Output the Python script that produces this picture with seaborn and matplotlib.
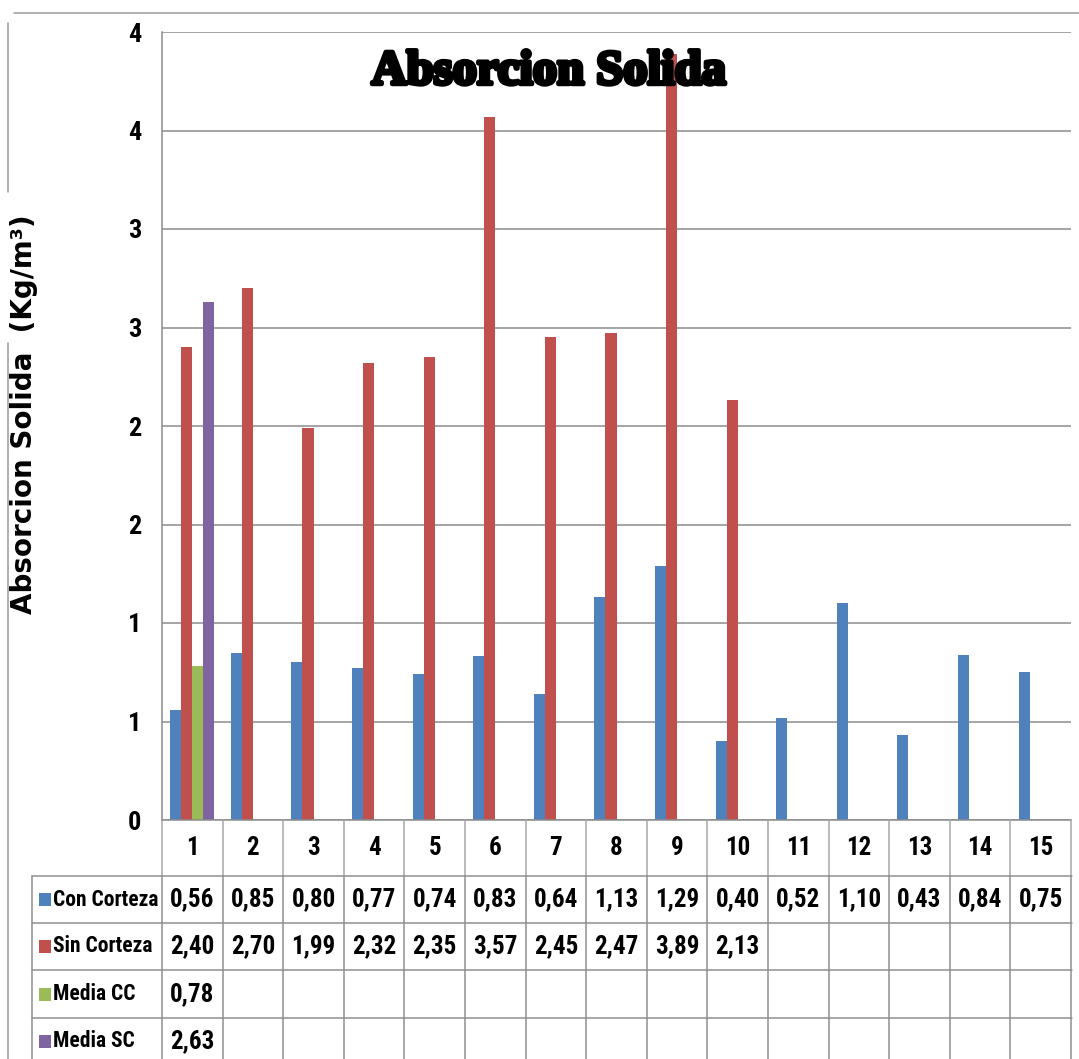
import numpy as np
import pandas as pd
import matplotlib
matplotlib.use("Agg")
import matplotlib.pyplot as plt
import seaborn as sns
from matplotlib.lines import Line2D
from matplotlib.patches import Rectangle
from matplotlib.transforms import blended_transform_factory
from matplotlib.ticker import MultipleLocator, FuncFormatter
import matplotlib.patheffects as pe

# ---- data -------------------------------------------------------------
categories = [str(i) for i in range(1, 16)]
con_corteza = [0.56, 0.85, 0.80, 0.77, 0.74, 0.83, 0.64, 1.13, 1.29, 0.40,
               0.52, 1.10, 0.43, 0.84, 0.75]
sin_corteza = [2.40, 2.70, 1.99, 2.32, 2.35, 3.57, 2.45, 2.47, 3.89, 2.13]
media_cc = [0.78]
media_sc = [2.63]

series_names = ["Con Corteza", "Sin Corteza", "Media CC", "Media SC"]
series_values = [con_corteza, sin_corteza, media_cc, media_sc]
series_colors = ["#4F81BD", "#C0504D", "#9BBB59", "#8064A2"]

rows = []
for name, vals in zip(series_names, series_values):
    for cat, v in zip(categories, vals):
        rows.append({"Muestra": cat, "Serie": name, "valor": v})
df = pd.DataFrame(rows)

# ---- figure -----------------------------------------------------------
W, H = 1079, 1059
sns.set_theme(style="white")
NARROW = ["Roboto Condensed", "DejaVu Sans"]
plt.rcParams["font.family"] = NARROW
plt.rcParams["font.stretch"] = "condensed"
plt.rcParams["text.color"] = "black"
plt.rcParams["ytick.color"] = "black"

fig = plt.figure(figsize=(W / 100, H / 100), dpi=100)
fig.patch.set_facecolor("white")

def fx(px):
    return px / W

def fy(py):
    return 1 - py / H

ax = fig.add_axes([fx(162), fy(820), fx(1071) - fx(162), fy(32) - fy(820)])

sns.barplot(data=df, x="Muestra", y="valor", hue="Serie", order=categories,
            hue_order=series_names, palette=series_colors, width=0.73,
            saturation=1, errorbar=None, legend=False, linewidth=0,
            edgecolor="none", ax=ax)

grid_col = "#8c8c8c"
ax.set_ylim(0, 4)
ax.set_xlim(-0.5, len(categories) - 0.5)
ax.yaxis.set_major_locator(MultipleLocator(0.5))
ax.yaxis.set_major_formatter(FuncFormatter(lambda v, p: f"{int(np.floor(v + 0.5))}"))
ax.grid(axis="y", color=grid_col, linewidth=1.1)
ax.set_axisbelow(True)
ax.set_xlabel("")
ax.set_ylabel("")
ax.set_xticks([])
ax.tick_params(axis="y", length=0, pad=15)
for lab in ax.get_yticklabels():
    lab.set_fontsize(19)
    lab.set_fontweight("bold")
    lab.set_color("black")
for s in ["top", "right"]:
    ax.spines[s].set_visible(False)
for s in ["left", "bottom"]:
    ax.spines[s].set_color(grid_col)
    ax.spines[s].set_linewidth(1.1)

# ---- data table under the axis ---------------------------------------
trans = blended_transform_factory(ax.transData, fig.transFigure)
line_kw = dict(color="#8f8f8f", linewidth=1.1)
cell_font = dict(fontsize=18, fontweight="bold")

header_top, header_bot = 820, 876
row_edges = [876, 923, 970, 1018, 1066]

# header row (category labels)
for i in range(len(categories) + 1):
    fig.add_artist(Line2D([i - 0.5, i - 0.5], [fy(header_top), fy(header_bot)],
                          transform=trans, color="#a8a8a8", linewidth=1.1))
for i, cat in enumerate(categories):
    fig.text(i, fy((header_top + header_bot) / 2), cat, transform=trans,
             ha="center", va="center", **cell_font)

# horizontal rules of the body
for ye in row_edges:
    fig.add_artist(Line2D([fx(32), fx(1072)], [fy(ye), fy(ye)],
                          transform=fig.transFigure, **line_kw))
# vertical rules of the body
fig.add_artist(Line2D([fx(32), fx(32)], [fy(row_edges[0]), fy(row_edges[-1])],
                      transform=fig.transFigure, **line_kw))
for i in range(len(categories) + 1):
    fig.add_artist(Line2D([i - 0.5, i - 0.5], [fy(row_edges[0]), fy(row_edges[-1])],
                          transform=trans, **line_kw))

# body cells
for r, (name, vals, col) in enumerate(zip(series_names, series_values, series_colors)):
    yc = fy((row_edges[r] + row_edges[r + 1]) / 2) if r < 3 else fy(1041)
    fig.add_artist(Rectangle((fx(39), yc - 6.5 / H), 12 / W, 13 / H,
                             transform=fig.transFigure, facecolor=col,
                             edgecolor="none"))
    fig.text(fx(53), yc, name, transform=fig.transFigure, ha="left",
             va="center", fontsize=15.5, fontweight="bold")
    for i, v in enumerate(vals):
        fig.text(i, yc, f"{v:.2f}".replace(".", ","), transform=trans,
                 ha="center", va="center", **cell_font)

# ---- titles -----------------------------------------------------------
fig.text(fx(549), fy(84), "Absorcion Solida", ha="center", va="baseline",
         fontsize=35, fontweight="bold", fontstretch="normal",
         family=["Liberation Serif", "DejaVu Serif"], color="black",
         path_effects=[pe.withStroke(linewidth=3.2, foreground="black")])

fig.text(fx(24), fy(414), "Absorcion Solida  (Kg/m³)", rotation=90,
         ha="center", va="center", fontsize=20, fontweight="bold",
         fontstretch="normal", family=["DejaVu Sans"], color="black")

# frame remnants around the chart
frame_kw = dict(color="#9a9a9a", linewidth=1.1)
fig.add_artist(Line2D([fx(14), fx(1079)], [fy(13), fy(13)],
                      transform=fig.transFigure, **frame_kw))
fig.add_artist(Line2D([fx(8), fx(8)], [fy(23), fy(192)],
                      transform=fig.transFigure, **frame_kw))
fig.add_artist(Line2D([fx(8), fx(8)], [fy(343), fy(1059)],
                      transform=fig.transFigure, **frame_kw))

fig.savefig("out.png", dpi=100, facecolor="white")
